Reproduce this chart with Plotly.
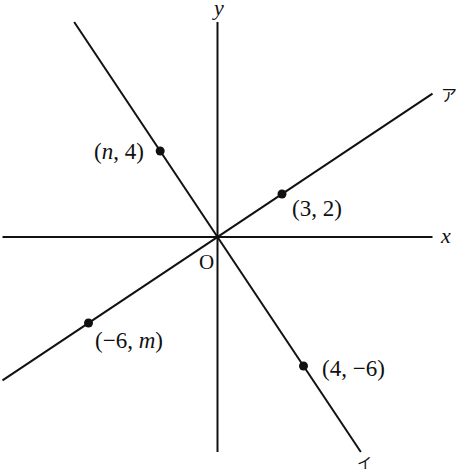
import plotly.graph_objects as go

# axis extents (units)
axis_x = [-10, 10]
axis_y = [-10, 10]

# line ア : y = 2/3 x, line イ : y = -3/2 x
line_a_x = [-10, 10]
line_a_y = [-20 / 3, 20 / 3]
line_i_x = [-20 / 3, 20 / 3]
line_i_y = [10, -10]

# marked points
point_x = [3, -6, -8 / 3, 4]
point_y = [2, -4, 4, -6]
point_labels = ["(3, 2)", "(−6, <i>m</i>)", "(<i>n</i>, 4)", "(4, −6)"]

black = "#111111"
serif = "Liberation Serif"


def main():
    fig = go.Figure()

    # coordinate axes
    fig.add_trace(go.Scatter(x=axis_x, y=[0, 0], mode="lines",
                             line=dict(color=black, width=2)))
    fig.add_trace(go.Scatter(x=[0, 0], y=axis_y, mode="lines",
                             line=dict(color=black, width=2)))

    # the two lines
    fig.add_trace(go.Scatter(x=line_a_x, y=line_a_y, mode="lines",
                             line=dict(color=black, width=2)))
    fig.add_trace(go.Scatter(x=line_i_x, y=line_i_y, mode="lines",
                             line=dict(color=black, width=2)))

    fig.add_trace(go.Scatter(x=point_x, y=point_y, mode="markers",
                             marker=dict(color=black, size=9)))

    # point labels: (xanchor, xshift, yshift)
    placement = [
        ("left", 8, -14),
        ("left", 4, -17),
        ("right", -14, 0),
        ("left", 16, -2),
    ]
    for px_, py_, txt, (anchor, xs, ys) in zip(point_x, point_y, point_labels, placement):
        fig.add_annotation(x=px_, y=py_, text=txt, showarrow=False,
                           xanchor=anchor, xshift=xs, yshift=ys,
                           font=dict(family=serif, size=23, color=black))

    # axis names, origin, line names
    fig.add_annotation(x=axis_x[1], y=0, text="<i>x</i>", showarrow=False,
                       xanchor="left", xshift=5, yshift=2,
                       font=dict(family=serif, size=22, color=black))
    fig.add_annotation(x=0, y=axis_y[1], text="<i>y</i>", showarrow=False,
                       yshift=15, xshift=0,
                       font=dict(family=serif, size=22, color=black))
    fig.add_annotation(x=0, y=0, text="O", showarrow=False,
                       xshift=-11, yshift=-25,
                       font=dict(family=serif, size=21, color=black))
    fig.add_annotation(x=line_a_x[1], y=line_a_y[1], text="ア", showarrow=False,
                       xanchor="left", xshift=6, yshift=0,
                       font=dict(family="Noto Sans CJK JP", size=16, color=black))
    fig.add_annotation(x=line_i_x[1], y=line_i_y[1], text="イ", showarrow=False,
                       xshift=4, yshift=-9,
                       font=dict(family="Noto Sans CJK JP", size=15, color=black))

    fig.update_xaxes(range=[-217.5 / 21.5, 244.5 / 21.5], visible=False)
    fig.update_yaxes(range=[-234 / 21.5, 237 / 21.5], visible=False)
    fig.update_layout(
        width=462,
        height=471,
        margin=dict(l=0, r=0, t=0, b=0),
        showlegend=False,
        plot_bgcolor="white",
        paper_bgcolor="white",
    )

    # the page's default body margin would shift the figure by 8px
    fig.write_html("out.html", config={"displayModeBar": False},
                   post_script="document.body.style.margin = '0';")


if __name__ == "__main__":
    main()
